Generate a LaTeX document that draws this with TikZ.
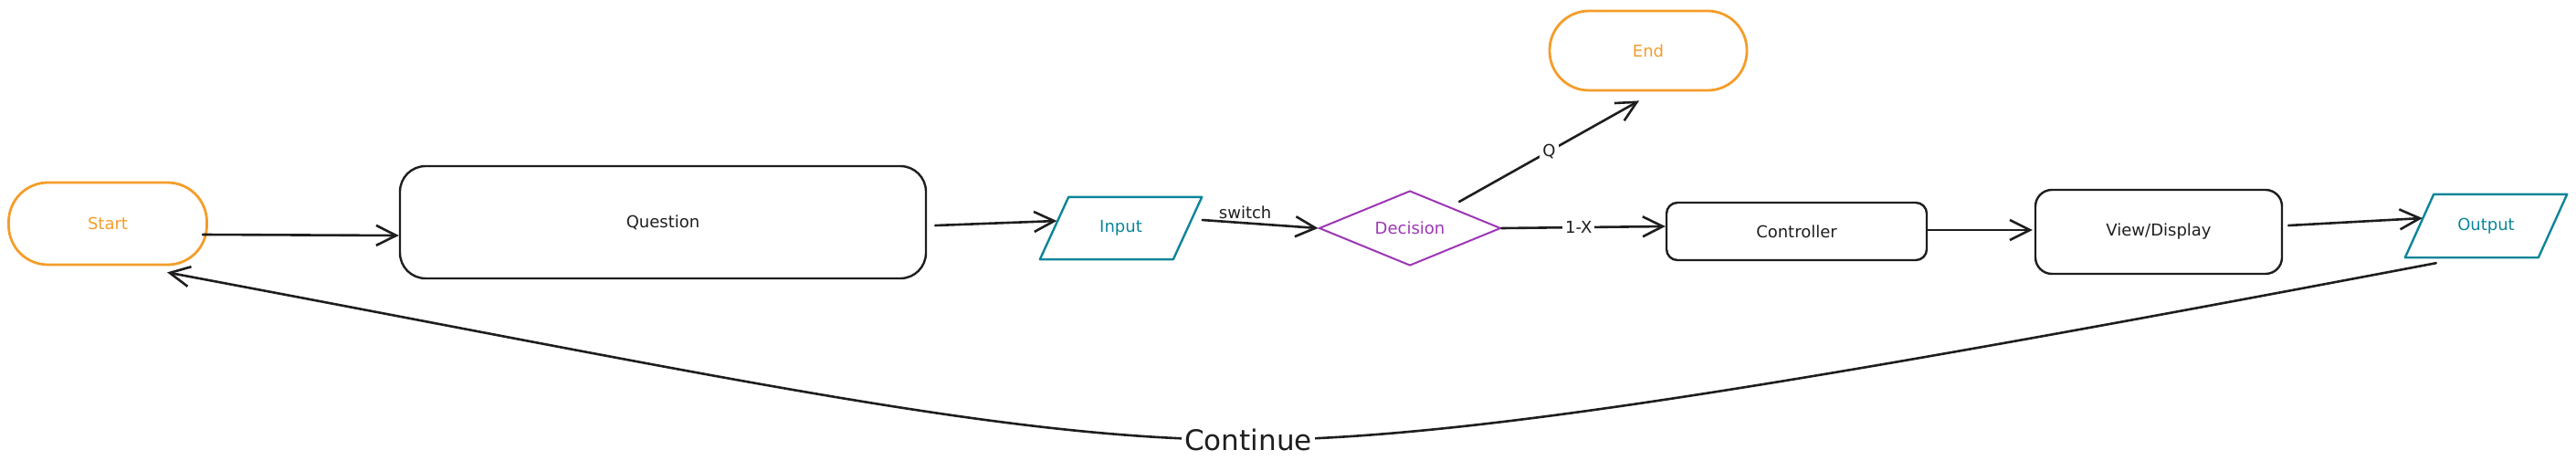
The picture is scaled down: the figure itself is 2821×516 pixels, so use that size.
\documentclass[tikz,border=0pt]{standalone}
\usepackage{fontspec}
\setmainfont{DejaVu Sans}
\usetikzlibrary{shapes.geometric,arrows.meta,calc}
\definecolor{ink}{HTML}{1E1E1E}
\definecolor{orng}{HTML}{F49D2A}
\definecolor{tealc}{HTML}{0C8599}
\definecolor{purp}{HTML}{9C36B5}
\begin{document}
\begin{tikzpicture}[x=1pt,y=-1pt,font=\fontsize{18}{21}\selectfont,
  term/.style={rectangle,draw=orng,line width=2.8pt,text=orng,rounded corners=43pt,inner sep=0pt},
  proc/.style={rectangle,draw=ink,line width=2.4pt,text=ink,inner sep=0pt},
  io/.style={rectangle,text=tealc,inner sep=0pt},
  iobox/.style={draw=tealc,line width=2.4pt,line join=round},
  dec/.style={diamond,aspect=2.4,draw=purp,line width=2pt,text=purp,inner sep=0pt},
  conn/.style={draw=ink,line width=2.6pt,line cap=round,-{Straight Barb[length=22pt,width=22pt]}},
  lbl/.style={fill=white,text=ink,inner sep=3pt}]
\useasboundingbox (0,0) rectangle (2821,516);
% nodes
\node[term,minimum width=217pt,minimum height=90pt] (start) at (118,245) {Start};
\node[proc,minimum width=576pt,minimum height=123pt,rounded corners=28pt] (question) at (726,243.5) {Question};
\node[io,minimum width=177pt,minimum height=68pt] (input) at (1227.5,250) {Input};
\draw[iobox] (input.south west) -- ++(146,0) -- (input.north east) -- ++(-146,0) -- cycle;
\node[dec,minimum width=199pt,minimum height=82pt] (decision) at (1544,250) {Decision};
\node[term,minimum width=216pt,minimum height=87pt] (end) at (1805,55.5) {End};
\node[proc,minimum width=285pt,minimum height=63pt,rounded corners=12pt] (ctrl) at (1967.5,253.5) {Controller};
\node[proc,minimum width=270pt,minimum height=92pt,rounded corners=18pt] (view) at (2364,254) {View/Display};
\node[io,minimum width=177pt,minimum height=69pt] (output) at (2722.5,247.5) {Output};
\draw[iobox] (output.south west) -- ++(146,0) -- (output.north east) -- ++(-146,0) -- cycle;
% connectors
\draw[conn] ([shift={(-6,12)}]start.east) -- ([shift={(0,14.5)}]question.west);
\draw[conn] ([shift={(9,3.5)}]question.east) -- ([shift={(18.5,-8)}]input.west);
\draw[conn] ([shift={(0.5,-9)}]input.east) -- node[above,pos=0.37,text=ink,inner sep=3pt] {switch} (decision.west);
\draw[conn] ([shift={(54,-29)}]decision.center) -- node[lbl] {Q} ([shift={(-10,10)}]end.south);
\draw[conn] (decision.east) -- node[lbl,pos=0.47] {1-X} ([shift={(0,-5.5)}]ctrl.west);
\draw[conn] ([shift={(0,-1.5)}]ctrl.east) -- ([shift={(-2,-2)}]view.west);
\draw[conn] ([shift={(6,-7)}]view.east) -- ([shift={(19,-8.5)}]output.west);
\coordinate (cmid) at (1367,482);
\draw[conn] ([shift={(34,6)}]output.south west) .. controls (1968,421) and (1600,482) .. (cmid)
  node[lbl,font=\fontsize{31}{36}\selectfont] (cont) {Continue}
  .. controls (1100,482) and (783,411) .. ([shift={(65,7)}]start.south);
\end{tikzpicture}
\end{document}
